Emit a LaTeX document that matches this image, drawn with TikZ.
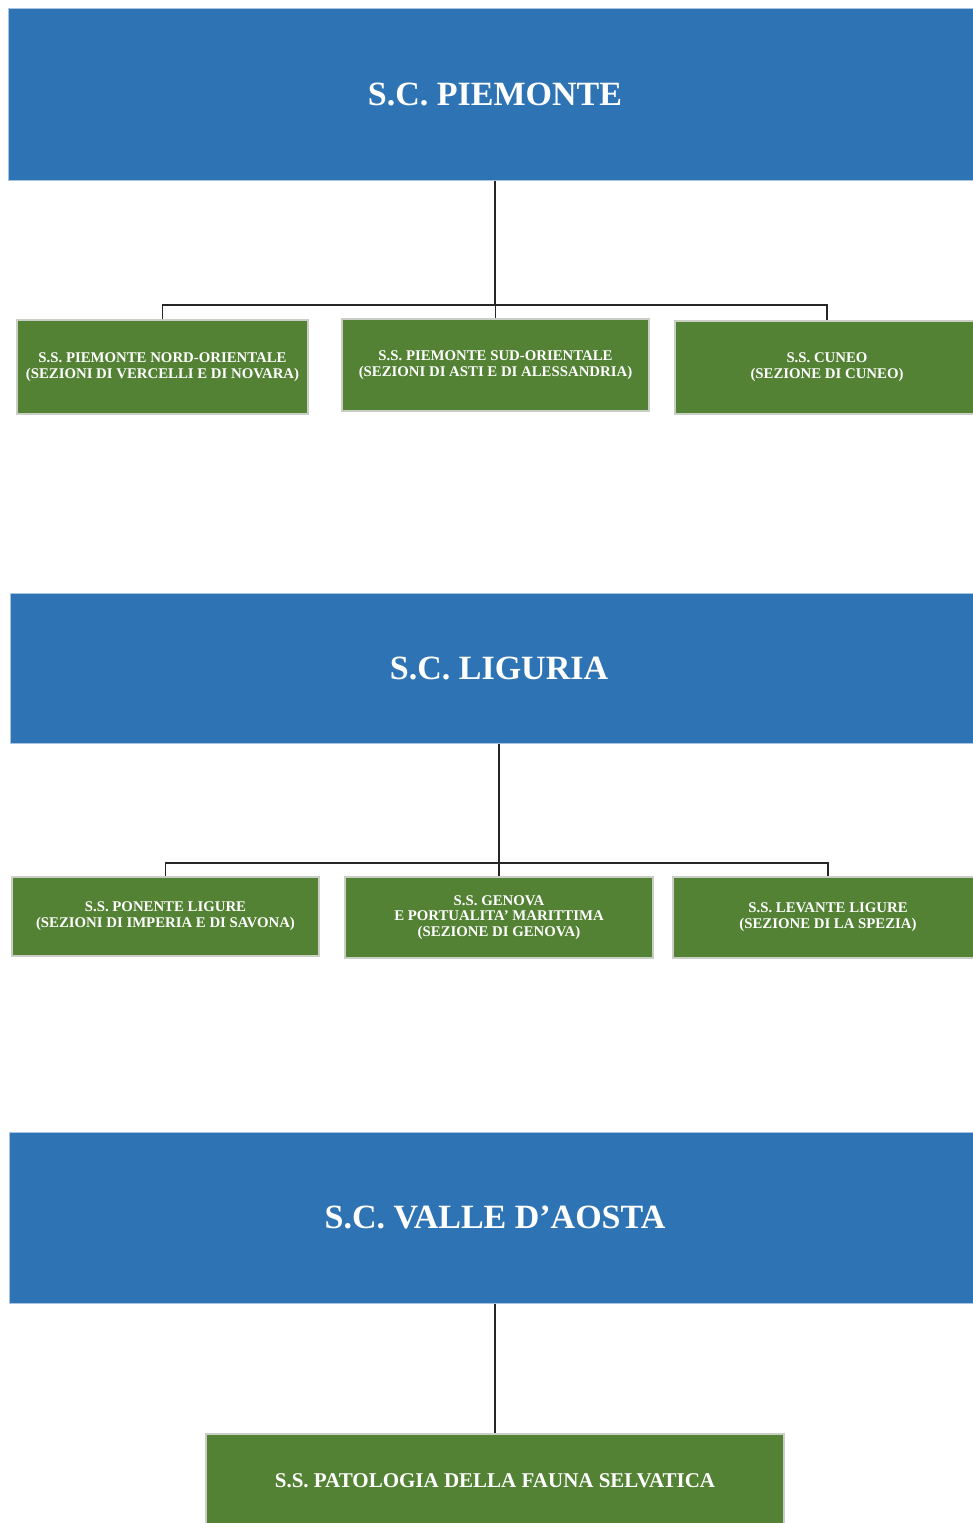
\documentclass[tikz,border=0pt]{standalone}
\usepackage{fontspec}
\setmainfont{Liberation Serif}
\definecolor{scblue}{HTML}{2E74B5}
\definecolor{ssgreen}{HTML}{548235}
\definecolor{scedge}{HTML}{A9C4E0}
\definecolor{ssedge}{HTML}{C9CFC4}
\begin{document}
\begin{tikzpicture}[x=1pt,y=-1pt,
  scbox/.style={fill=scblue,draw=scedge,line width=1pt,inner sep=0pt,
    text=white,font=\bfseries\fontsize{34}{38}\selectfont,align=center},
  ssbox/.style={fill=ssgreen,draw=ssedge,line width=1.5pt,inner sep=0pt,
    text=white,font=\bfseries\fontsize{14.8}{15.8}\selectfont,align=center},
  link/.style={draw=black!85,line width=1.1pt}]
\clip (0,0) rectangle (973,1523);
\fill[white] (0,0) rectangle (973,1523);

% Piemonte
\node[scbox,minimum width=974pt,minimum height=172pt] (pie) at (495,94) {S.C. PIEMONTE};
\node[ssbox,minimum width=291pt,minimum height=94pt] (pie1) at (162.5,367) {S.S. PIEMONTE NORD-ORIENTALE\\(SEZIONI DI VERCELLI E DI NOVARA)};
\node[ssbox,minimum width=307pt,minimum height=92pt] (pie2) at (495.5,365) {S.S. PIEMONTE SUD-ORIENTALE\\(SEZIONI DI ASTI E DI ALESSANDRIA)};
\node[ssbox,minimum width=304pt,minimum height=93pt] (pie3) at (827,367.5) {S.S. CUNEO\\(SEZIONE DI CUNEO)};
\coordinate (barA) at (495,305);
\draw[link] (pie.south) -- (barA);
\draw[link] (pie1.north) |- (barA) -| (pie3.north);
\draw[link] (pie2.north) -- (pie2.north |- barA);

% Liguria
\node[scbox,minimum width=978pt,minimum height=150pt] (lig) at (499,668) {S.C. LIGURIA};
\node[ssbox,minimum width=307pt,minimum height=79pt] (lig1) at (165.5,916.5) {S.S. PONENTE LIGURE\\(SEZIONI DI IMPERIA E DI SAVONA)};
\node[ssbox,minimum width=308pt,minimum height=81pt] (lig2) at (499,917.5) {S.S. GENOVA\\E PORTUALITA’ MARITTIMA\\(SEZIONE DI GENOVA)};
\node[ssbox,minimum width=310pt,minimum height=81pt] (lig3) at (828,917.5) {S.S. LEVANTE LIGURE\\(SEZIONE DI LA SPEZIA)};
\coordinate (barB) at (499,863);
\draw[link] (lig.south) -- (barB);
\draw[link] (lig1.north) |- (barB) -| (lig3.north);
\draw[link] (lig2.north) -- (lig2.north |- barB);

% Valle d'Aosta
\node[scbox,minimum width=972pt,minimum height=171pt] (vda) at (495,1217.5) {S.C. VALLE D’AOSTA};
\node[ssbox,minimum width=578pt,minimum height=94pt,font=\bfseries\fontsize{21}{24}\selectfont] (vda1) at (495,1481) {S.S. PATOLOGIA DELLA FAUNA SELVATICA};
\draw[link] (vda.south) -- (vda1.north);
\end{tikzpicture}
\end{document}
